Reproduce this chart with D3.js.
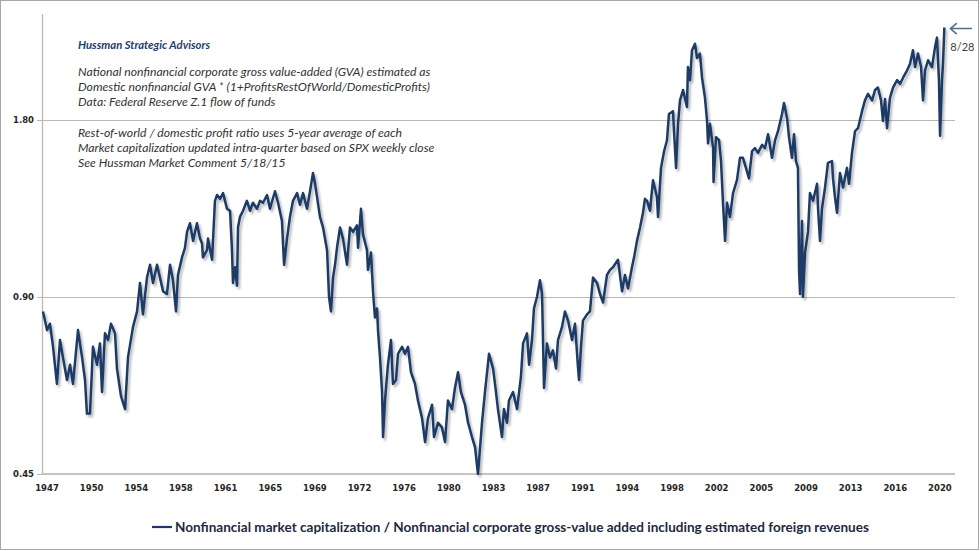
<!DOCTYPE html>
<html><head><meta charset="utf-8">
<script src="https://cdn.jsdelivr.net/npm/d3@7"></script>
<style>
html,body{margin:0;padding:0;background:#fff;}
svg{display:block;}
</style></head><body>
<svg id="chart" width="980" height="551"></svg>
<script>
// ---- data (decimal year, ratio) ----
const years = [
1947.08,1947.41,1947.65,1947.90,1948.22,1948.47,1948.71,1949.04,1949.29,1949.53,1949.94,
1950.27,1950.51,1950.67,1950.92,1951.16,1951.49,1951.73,1951.90,1952.14,1952.39,1952.63,1952.96,
1953.12,1953.45,1953.78,1954.02,1954.43,1954.76,1955.00,1955.24,1955.57,1955.82,1956.06,1956.39,
1956.63,1956.88,1957.20,1957.45,1957.69,1957.94,1958.10,1958.43,1958.67,1958.84,1959.08,1959.33,
1959.65,1959.90,1960.06,1960.14,1960.47,1960.55,1960.88,1961.12,1961.29,1961.53,1961.78,1962.10,
1962.35,1962.51,1962.59,1962.76,1962.92,1963.00,1963.16,1963.41,1963.73,1963.98,1964.22,1964.55,
1964.80,1965.04,1965.37,1965.61,1966.02,1966.27,1966.59,1966.76,1967.00,1967.24,1967.49,1967.82,
1968.06,1968.31,1968.63,1968.88,1969.12,1969.29,1969.45,1969.69,1969.94,1970.27,1970.43,1970.59,
1970.76,1970.92,1971.08,1971.33,1971.57,1971.90,1972.14,1972.39,1972.71,1972.80,1973.04,1973.20,
1973.53,1973.61,1973.86,1974.02,1974.18,1974.35,1974.43,1974.59,1974.76,1974.84,1975.00,1975.24,
1975.49,1975.65,1975.90,1976.06,1976.39,1976.63,1976.88,1977.12,1977.45,1977.69,1978.02,1978.27,
1978.51,1978.84,1979.00,1979.33,1979.65,1979.90,1980.14,1980.47,1980.71,1980.96,1981.20,1981.53,
1981.78,1982.10,1982.35,1982.59,1982.92,1983.16,1983.49,1983.82,1984.06,1984.22,1984.55,1984.71,
1984.96,1985.12,1985.45,1985.78,1986.10,1986.27,1986.59,1986.76,1987.00,1987.16,1987.41,1987.65,
1987.82,1987.98,1988.22,1988.47,1988.71,1988.96,1989.12,1989.45,1989.69,1989.94,1990.27,1990.51,
1990.76,1990.84,1991.00,1991.16,1991.49,1991.73,1991.98,1992.31,1992.55,1992.80,1993.12,1993.37,
1993.61,1994.02,1994.35,1994.59,1994.84,1995.16,1995.33,1995.57,1995.82,1996.06,1996.22,1996.39,
1996.63,1996.88,1997.20,1997.29,1997.53,1997.78,1998.02,1998.18,1998.51,1998.59,1998.76,1998.92,
1999.08,1999.33,1999.65,1999.73,1999.90,2000.06,2000.31,2000.47,2000.71,2000.88,2001.12,2001.29,
2001.37,2001.53,2001.78,2001.82,2002.02,2002.27,2002.43,2002.59,2002.76,2002.92,2003.16,2003.41,
2003.73,2003.98,2004.22,2004.55,2004.71,2004.96,2005.20,2005.45,2005.78,2006.02,2006.27,2006.59,
2006.84,2007.08,2007.41,2007.57,2007.82,2007.98,2008.22,2008.39,2008.55,2008.71,2008.80,2008.88,
2009.04,2009.12,2009.29,2009.53,2009.69,2009.94,2010.27,2010.35,2010.51,2010.67,2010.92,2011.16,
2011.49,2011.57,2011.73,2011.90,2012.14,2012.39,2012.71,2012.88,2013.12,2013.37,2013.61,2013.94,
2014.18,2014.43,2014.76,2015.00,2015.24,2015.49,2015.65,2015.82,2015.98,2016.22,2016.47,2016.80,
2017.04,2017.29,2017.61,2017.86,2018.10,2018.27,2018.51,2018.76,2018.92,2019.08,2019.33,2019.65,
2019.90,2020.06,2020.22,2020.31,2020.47,2020.55,2020.66
];
const ratio = [
0.85,0.79,0.81,0.74,0.64,0.76,0.71,0.65,0.69,0.64,0.79,
0.71,0.65,0.57,0.57,0.74,0.69,0.75,0.62,0.78,0.76,0.81,0.78,
0.68,0.61,0.58,0.71,0.80,0.85,0.95,0.84,0.97,1.02,0.95,1.02,
0.97,0.92,0.91,1.02,0.96,0.85,0.98,1.05,1.09,1.16,1.20,1.12,
1.20,1.13,1.11,1.05,1.08,1.13,1.04,1.31,1.34,1.32,1.35,1.27,
1.26,1.08,0.95,1.01,0.94,1.18,1.23,1.26,1.31,1.26,1.30,1.27,
1.31,1.30,1.34,1.27,1.36,1.30,1.21,1.02,1.13,1.23,1.31,1.35,
1.29,1.35,1.27,1.36,1.46,1.40,1.33,1.23,1.18,1.08,0.90,0.85,
0.97,1.02,1.09,1.18,1.13,1.02,1.18,1.16,1.19,1.09,1.27,1.15,
1.08,1.00,1.07,0.92,0.83,0.86,0.79,0.71,0.62,0.52,0.60,0.69,
0.76,0.64,0.65,0.72,0.74,0.72,0.74,0.67,0.64,0.60,0.56,0.51,
0.56,0.59,0.52,0.55,0.54,0.51,0.60,0.58,0.63,0.67,0.62,0.59,
0.55,0.52,0.50,0.45,0.55,0.62,0.72,0.68,0.62,0.58,0.52,0.58,
0.55,0.60,0.62,0.58,0.66,0.75,0.78,0.69,0.76,0.86,0.90,0.96,
0.91,0.63,0.75,0.71,0.73,0.68,0.76,0.80,0.85,0.82,0.76,0.81,
0.68,0.65,0.74,0.82,0.84,0.85,0.97,0.95,0.91,0.88,0.98,1.00,
1.01,1.04,0.92,0.98,0.93,1.01,1.05,1.12,1.18,1.25,1.32,1.31,
1.26,1.42,1.33,1.23,1.49,1.59,1.66,1.84,1.86,1.72,1.49,1.77,
1.94,2.02,1.89,2.21,2.10,2.36,2.42,2.29,2.33,2.12,1.96,1.79,
1.64,1.77,1.61,1.41,1.68,1.66,1.53,1.30,1.12,1.30,1.23,1.35,
1.42,1.55,1.55,1.47,1.43,1.59,1.61,1.58,1.63,1.61,1.70,1.55,
1.66,1.72,1.84,1.92,1.81,1.68,1.55,1.70,1.53,1.49,1.00,0.91,
1.21,0.90,1.07,1.16,1.35,1.31,1.40,1.27,1.12,1.27,1.38,1.52,
1.53,1.43,1.33,1.25,1.46,1.38,1.49,1.40,1.58,1.72,1.74,1.86,
1.94,1.99,1.94,2.02,2.04,1.94,1.79,1.95,1.74,1.96,2.04,2.10,
2.07,2.12,2.18,2.24,2.36,2.21,2.33,2.21,1.94,2.18,2.27,2.21,
2.39,2.48,2.10,1.69,2.10,2.24,2.58
];
const yTicks = [0.45, 0.90, 1.80];
const xTickLabels = ["1947","1950","1954","1958","1961","1965","1969","1972","1976","1980","1983",
  "1987","1991","1994","1998","2002","2005","2009","2013","2016","2020"];
const noteTitle = "Hussman Strategic Advisors";
const noteBlock1 = [
  "National nonfinancial corporate gross value-added (GVA) estimated as",
  "Domestic nonfinancial GVA * (1+ProfitsRestOfWorld/DomesticProfits)",
  "Data: Federal Reserve Z.1 flow of funds"];
const noteBlock2 = [
  "Rest-of-world / domestic profit ratio uses 5-year average of each",
  "Market capitalization updated intra-quarter  based on SPX weekly close",
  "See Hussman Market Comment 5/18/15"];
const seriesName = "Nonfinancial market capitalization / Nonfinancial corporate gross-value added including estimated foreign revenues";
const lastLabel = "8/28";

// ---- drawing ----
const svg = d3.select("#chart");
const W = 980, H = 551;
const plot = {left: 42, right: 955, top: 14, bottom: 474};

const defs = svg.append("defs");
const f = defs.append("filter").attr("id","sh").attr("x","-5%").attr("y","-5%").attr("width","110%").attr("height","110%");
f.append("feDropShadow").attr("dx",2).attr("dy",2.5).attr("stdDeviation",1.2)
  .attr("flood-color","#000").attr("flood-opacity",0.28);

svg.append("rect").attr("x",0.5).attr("y",0.5).attr("width",W-2).attr("height",H-2)
  .attr("fill","#fff").attr("stroke","#a6a6a6").attr("stroke-width",1);

const x = d3.scaleLinear().domain([1947, 2021.53]).range([plot.left, plot.right]);
const y = d3.scaleLog().domain([0.45, 2.72]).range([plot.bottom, plot.top]);
const xl = d3.scalePoint().domain(xTickLabels).range([x(1947.41), x(2020.3)]);

// gridlines (bottom one is the axis)
svg.append("g").selectAll("line").data(yTicks.filter(d => d > 0.45)).join("line")
  .attr("x1", plot.left).attr("x2", plot.right)
  .attr("y1", d => Math.round(y(d)) + 0.5).attr("y2", d => Math.round(y(d)) + 0.5)
  .attr("stroke", "#b8b8b8").attr("stroke-width", 1);

// y axis line
svg.append("line").attr("x1", plot.left + 0.5).attr("x2", plot.left + 0.5)
  .attr("y1", plot.top).attr("y2", plot.bottom)
  .attr("stroke", "#b8b8b8").attr("stroke-width", 1.3);
const yg = svg.append("g");
yg.selectAll("line").data(yTicks).join("line")
  .attr("x1", plot.left - 5).attr("x2", plot.left)
  .attr("y1", d => Math.round(y(d)) + 0.5).attr("y2", d => Math.round(y(d)) + 0.5)
  .attr("stroke", "#b8b8b8");
yg.selectAll("text").data(yTicks).join("text")
  .attr("x", plot.left - 8).attr("y", d => y(d) + 3)
  .attr("text-anchor", "end")
  .attr("font-family", "'DejaVu Sans', sans-serif").attr("font-weight", "bold").attr("font-size", 8.5)
  .attr("fill", "#262626")
  .text(d => d.toFixed(2));

// x axis
svg.append("line").attr("x1", plot.left).attr("x2", plot.right)
  .attr("y1", plot.bottom).attr("y2", plot.bottom)
  .attr("stroke", "#c4c4c4").attr("stroke-width", 2);
svg.append("g").selectAll("text").data(xTickLabels).join("text")
  .attr("x", d => xl(d)).attr("y", plot.bottom + 17)
  .attr("text-anchor", "middle")
  .attr("font-family", "'DejaVu Sans', sans-serif").attr("font-weight", "bold").attr("font-size", 8.5)
  .attr("fill", "#262626")
  .text(d => d);

// series line
const pts = years.map((t, i) => [t, ratio[i]]);
svg.append("path").datum(pts)
  .attr("fill", "none").attr("stroke", "#1d3a66").attr("stroke-width", 2.5)
  .attr("stroke-linejoin", "round").attr("filter", "url(#sh)")
  .attr("d", d3.line().x(d => x(d[0])).y(d => y(d[1])));

// notes
const ng = svg.append("g").attr("font-family", "Lato, sans-serif").attr("font-style", "italic");
ng.append("text").attr("x", 78).attr("y", 48.5).attr("font-weight", "bold").attr("font-size", 11.3)
  .attr("fill", "#24406b").text(noteTitle);
noteBlock1.forEach((s, i) => ng.append("text").attr("x", 78).attr("y", 75.5 + i * 15.2)
  .attr("font-size", 12.2).attr("fill", "#333").text(s));
noteBlock2.forEach((s, i) => ng.append("text").attr("x", 78).attr("y", 136.5 + i * 15.2)
  .attr("font-size", 12.2).attr("fill", "#333").text(s));

// last value annotation (arrow pointing left at the last point)
const last = pts[pts.length - 1];
const ax = x(last[0]) + 6, ay = y(last[1]) + 1;
svg.append("path")
  .attr("d", `M${ax + 21},${ay} L${ax},${ay} M${ax + 6},${ay - 5} L${ax},${ay} L${ax + 6},${ay + 5}`)
  .attr("fill", "none").attr("stroke", "#4f6f8f").attr("stroke-width", 1.6)
  .attr("stroke-linecap", "round").attr("stroke-linejoin", "round");
svg.append("text").attr("x", ax).attr("y", ay + 22)
  .attr("font-family", "Lato, sans-serif").attr("font-size", 11).attr("fill", "#404040")
  .text(lastLabel);

// legend
const lg = svg.append("g");
lg.append("line").attr("x1", 152).attr("x2", 172).attr("y1", 527).attr("y2", 527)
  .attr("stroke", "#1d3a66").attr("stroke-width", 2.2);
lg.append("text").attr("x", 175).attr("y", 531.5)
  .attr("font-family", "Lato, sans-serif").attr("font-weight", "bold").attr("font-size", 13.55)
  .attr("fill", "#1e2a40").text(seriesName);
</script>
</body></html>
